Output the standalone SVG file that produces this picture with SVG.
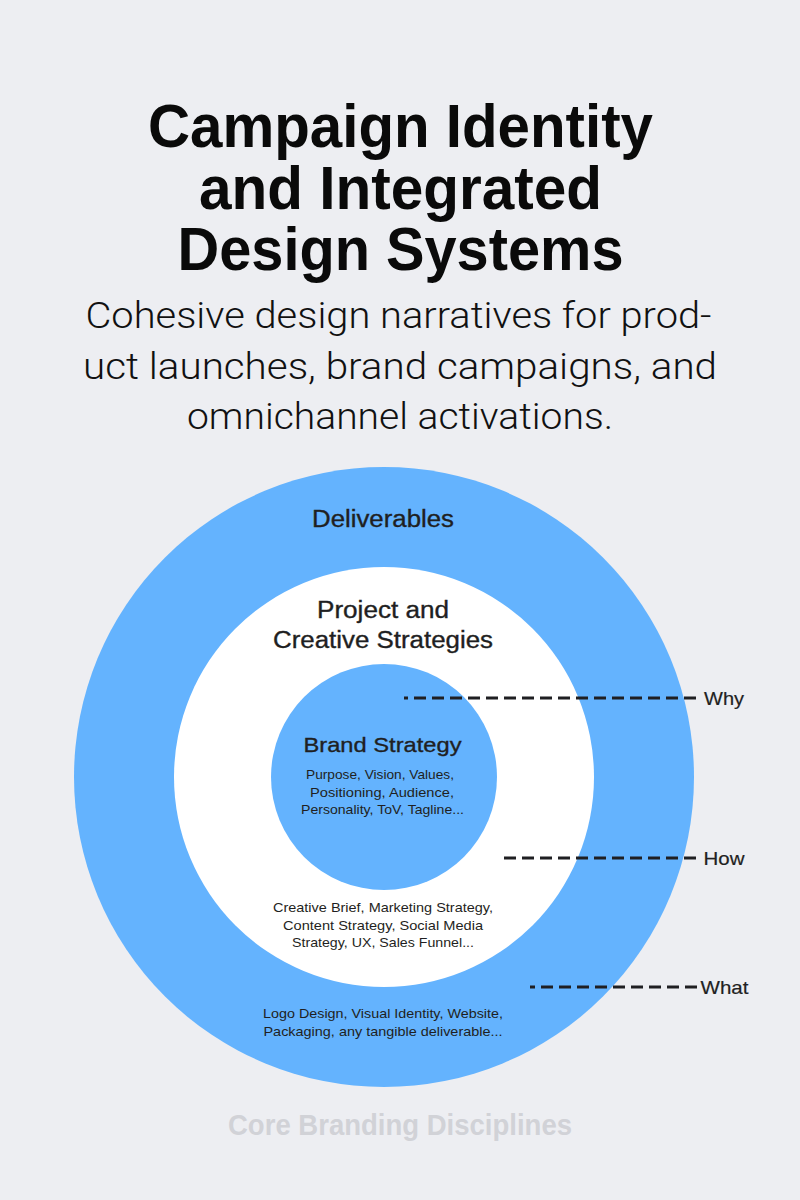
<svg xmlns="http://www.w3.org/2000/svg" width="800" height="1200" viewBox="0 0 800 1200">
  <style>
    .title { font-family: "Liberation Sans", Arial, sans-serif; font-weight: 700; font-size: 61px; fill: #0a0a0a; text-anchor: middle; }
    .sub { font-family: Roboto, "Liberation Sans", sans-serif; font-weight: 300; font-size: 37px; fill: #111; text-anchor: middle; }
    .ring-label { font-family: "Liberation Sans", Arial, sans-serif; font-size: 23px; fill: #1f1f22; stroke: #1f1f22; stroke-width: 0.35px; text-anchor: middle; }
    .core-label { font-family: "Liberation Sans", Arial, sans-serif; font-size: 21px; fill: #1f1f22; stroke: #1f1f22; stroke-width: 0.35px; text-anchor: middle; }
    .note { font-family: "Liberation Sans", Arial, sans-serif; font-size: 13.5px; fill: #1f1f22; text-anchor: middle; }
    .tag { font-family: "Liberation Sans", Arial, sans-serif; font-size: 19px; fill: #1f1f22; stroke: #1f1f22; stroke-width: 0.2px; }
    .leader { fill: none; stroke: #1f1f22; stroke-width: 3; stroke-dasharray: 12 6; }
    .footer { font-family: "Liberation Sans", Arial, sans-serif; font-weight: 700; font-size: 29px; fill: #d1d2d7; text-anchor: middle; }
  </style>

  <rect width="800" height="1200" fill="#edeef2"/>

  <!-- heading -->
  <g id="heading">
    <text class="title" x="400.5" y="147" textLength="505" lengthAdjust="spacingAndGlyphs">Campaign Identity</text>
    <text class="title" x="400.5" y="208.5" textLength="403" lengthAdjust="spacingAndGlyphs">and Integrated</text>
    <text class="title" x="400.5" y="270" textLength="446" lengthAdjust="spacingAndGlyphs">Design Systems</text>
  </g>
  <g id="subheading">
    <text class="sub" x="398.5" y="328" textLength="626" lengthAdjust="spacingAndGlyphs">Cohesive design narratives for prod-</text>
    <text class="sub" x="400" y="379" textLength="634" lengthAdjust="spacingAndGlyphs">uct launches, brand campaigns, and</text>
    <text class="sub" x="400" y="429" textLength="426" lengthAdjust="spacingAndGlyphs">omnichannel activations.</text>
  </g>

  <!-- outer ring: deliverables -->
  <g id="deliverables">
    <circle cx="384" cy="777" r="310" fill="#64b3fe"/>
    <text class="ring-label" x="383" y="527" textLength="142" lengthAdjust="spacingAndGlyphs">Deliverables</text>
    <text class="note" x="383" y="1018" textLength="240" lengthAdjust="spacingAndGlyphs">Logo Design, Visual Identity, Website,</text>
    <text class="note" x="383" y="1036" textLength="239" lengthAdjust="spacingAndGlyphs">Packaging, any tangible deliverable...</text>
  </g>

  <!-- middle ring: project and creative strategies -->
  <g id="strategies">
    <circle cx="384" cy="777" r="210" fill="#ffffff"/>
    <text class="ring-label" x="383" y="618" textLength="132" lengthAdjust="spacingAndGlyphs">Project and</text>
    <text class="ring-label" x="383" y="648" textLength="220" lengthAdjust="spacingAndGlyphs">Creative Strategies</text>
    <text class="note" x="383" y="912" textLength="220" lengthAdjust="spacingAndGlyphs">Creative Brief, Marketing Strategy,</text>
    <text class="note" x="383" y="929.5" textLength="200" lengthAdjust="spacingAndGlyphs">Content Strategy, Social Media</text>
    <text class="note" x="383" y="947" textLength="182" lengthAdjust="spacingAndGlyphs">Strategy, UX, Sales Funnel...</text>
  </g>

  <!-- core: brand strategy -->
  <g id="brand-strategy">
    <circle cx="384" cy="777" r="113" fill="#64b3fe"/>
    <text class="core-label" x="382.5" y="752" textLength="158" lengthAdjust="spacingAndGlyphs">Brand Strategy</text>
    <text class="note" x="380" y="779" textLength="148" lengthAdjust="spacingAndGlyphs">Purpose, Vision, Values,</text>
    <text class="note" x="382" y="796.5" textLength="144" lengthAdjust="spacingAndGlyphs">Positioning, Audience,</text>
    <text class="note" x="382.5" y="813.5" textLength="163" lengthAdjust="spacingAndGlyphs">Personality, ToV, Tagline...</text>
  </g>

  <!-- dashed leaders, drawn from the label end inward -->
  <g id="connectors">
    <path class="leader" d="M696 698 H404"/>
    <path class="leader" d="M696 858 H499"/>
    <path class="leader" d="M697 987 H530"/>
  </g>

  <g id="tag-why"><text class="tag" x="704" y="704.5" textLength="40" lengthAdjust="spacingAndGlyphs">Why</text></g>
  <g id="tag-how"><text class="tag" x="703.5" y="864.5" textLength="41" lengthAdjust="spacingAndGlyphs">How</text></g>
  <g id="tag-what"><text class="tag" x="700.5" y="993.5" textLength="48" lengthAdjust="spacingAndGlyphs">What</text></g>

  <g id="footer">
    <text class="footer" x="400" y="1135" textLength="344" lengthAdjust="spacingAndGlyphs">Core Branding Disciplines</text>
  </g>
</svg>
